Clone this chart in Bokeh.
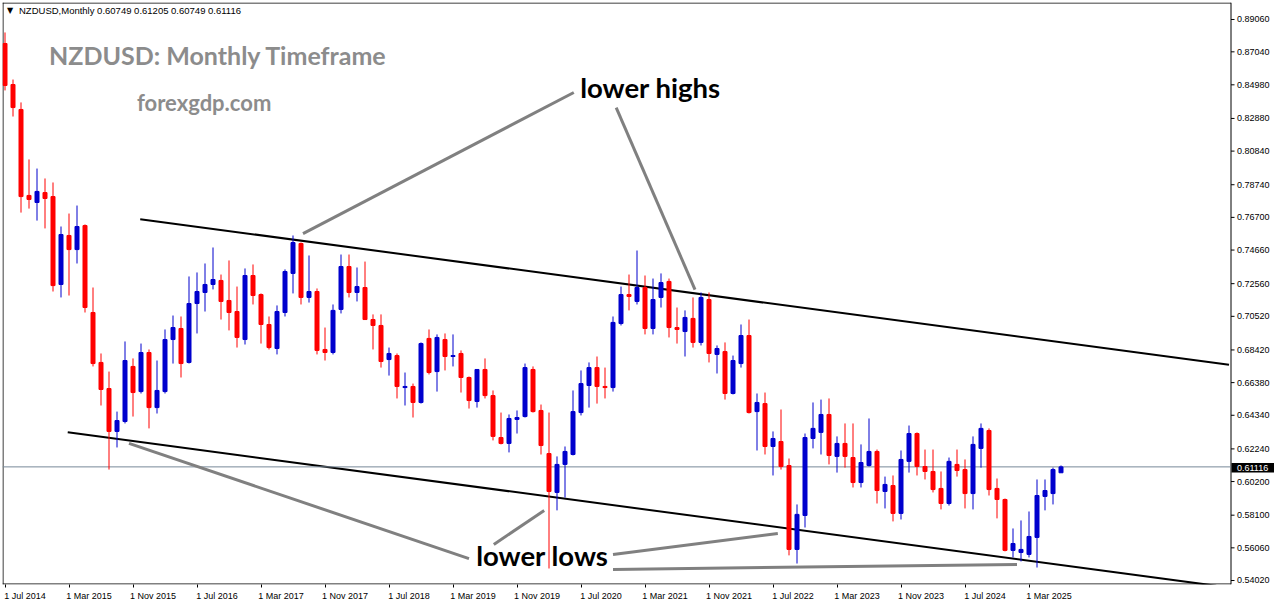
from bokeh.plotting import figure
from bokeh.models import Range1d, FixedTicker
from bokeh.core.properties import value
from bokeh.embed import file_html
from bokeh.resources import INLINE

# Monthly candles, index 0 = Jul 2014 ... index 132 = Jul 2025
opens = [0.8756, 0.8500, 0.8344, 0.7807, 0.7763, 0.7825, 0.7800, 0.7251, 0.7557, 0.7469,
         0.7619, 0.7076, 0.6764, 0.6601, 0.6333, 0.6395, 0.6739, 0.6582, 0.6826, 0.6482,
         0.6582, 0.6907, 0.6976, 0.6764, 0.7132, 0.7201, 0.7251, 0.7276, 0.7151, 0.7082,
         0.6907, 0.7307, 0.7188, 0.7001, 0.6851, 0.7076, 0.7320, 0.7507, 0.7170, 0.7207,
         0.6845, 0.6826, 0.7095, 0.7363, 0.7201, 0.7232, 0.7032, 0.6995, 0.6782, 0.6807,
         0.6607, 0.6614, 0.6514, 0.6914, 0.6707, 0.6907, 0.6801, 0.6820, 0.6670, 0.6520,
         0.6720, 0.6557, 0.6295, 0.6258, 0.6408, 0.6426, 0.6720, 0.6464, 0.6195, 0.5952,
         0.6127, 0.6189, 0.6451, 0.6620, 0.6732, 0.6614, 0.6607, 0.7007, 0.7188, 0.7145,
         0.7232, 0.6976, 0.7170, 0.7270, 0.6982, 0.6957, 0.7039, 0.6889, 0.7157, 0.6814,
         0.6832, 0.6570, 0.6757, 0.6932, 0.6457, 0.6507, 0.6239, 0.6270, 0.6120, 0.5596,
         0.5808, 0.6289, 0.6327, 0.6439, 0.6177, 0.6258, 0.6170, 0.6014, 0.6120, 0.6208,
         0.5958, 0.5995, 0.5821, 0.6146, 0.6320, 0.6114, 0.6083, 0.5977, 0.5883, 0.6127,
         0.6095, 0.5945, 0.6227, 0.6339, 0.5977, 0.5908, 0.5590, 0.5577, 0.5565, 0.5671,
         0.5927, 0.5945, 0.60749]
highs = [0.8825, 0.8531, 0.8388, 0.8032, 0.7975, 0.7913, 0.7888, 0.7613, 0.7694, 0.7744,
         0.7626, 0.7232, 0.6820, 0.6707, 0.6457, 0.6895, 0.6789, 0.6882, 0.6845, 0.6776,
         0.6970, 0.7057, 0.7051, 0.7301, 0.7326, 0.7382, 0.7482, 0.7313, 0.7401, 0.7238,
         0.7351, 0.7376, 0.7195, 0.7051, 0.7120, 0.7345, 0.7557, 0.7513, 0.7432, 0.7226,
         0.6982, 0.7126, 0.7438, 0.7438, 0.7357, 0.7394, 0.7064, 0.7064, 0.6857, 0.6820,
         0.6701, 0.6632, 0.6889, 0.6970, 0.6939, 0.6945, 0.6939, 0.6839, 0.6676, 0.6720,
         0.6789, 0.6589, 0.6451, 0.6439, 0.6464, 0.6757, 0.6739, 0.6501, 0.6451, 0.6177,
         0.6239, 0.6589, 0.6714, 0.6764, 0.6801, 0.6732, 0.7051, 0.7238, 0.7313, 0.7463,
         0.7307, 0.7288, 0.7320, 0.7288, 0.7107, 0.7089, 0.7170, 0.7201, 0.7201, 0.6870,
         0.6889, 0.6807, 0.7001, 0.7032, 0.6570, 0.6576, 0.6333, 0.6470, 0.6164, 0.5877,
         0.6320, 0.6514, 0.6532, 0.6539, 0.6302, 0.6383, 0.6383, 0.6252, 0.6414, 0.6220,
         0.6051, 0.6058, 0.6214, 0.6370, 0.6327, 0.6220, 0.6220, 0.6083, 0.6170, 0.6220,
         0.6158, 0.6302, 0.6383, 0.6352, 0.6039, 0.5914, 0.5727, 0.5777, 0.5833, 0.6033,
         0.6033, 0.6107, 0.61205]
lows = [0.8463, 0.8300, 0.7700, 0.7725, 0.7650, 0.7601, 0.7207, 0.7170, 0.7182, 0.7382,
        0.7076, 0.6739, 0.6495, 0.6095, 0.6233, 0.6383, 0.6426, 0.6570, 0.6352, 0.6445,
        0.6570, 0.6757, 0.6670, 0.6757, 0.6945, 0.7082, 0.7220, 0.7032, 0.6964, 0.6857,
        0.6876, 0.7126, 0.6882, 0.6845, 0.6814, 0.7051, 0.7195, 0.7126, 0.7138, 0.6814,
        0.6776, 0.6814, 0.7070, 0.7170, 0.7145, 0.7030, 0.6845, 0.6732, 0.6682, 0.6539,
        0.6495, 0.6420, 0.6507, 0.6689, 0.6582, 0.6714, 0.6739, 0.6576, 0.6476, 0.6482,
        0.6539, 0.6277, 0.6252, 0.6202, 0.6320, 0.6420, 0.6451, 0.6189, 0.5477, 0.5840,
        0.5920, 0.6183, 0.6433, 0.6482, 0.6507, 0.6539, 0.6582, 0.6995, 0.7089, 0.7126,
        0.6939, 0.6939, 0.7107, 0.6920, 0.6882, 0.6801, 0.6857, 0.6870, 0.6764, 0.6695,
        0.6532, 0.6564, 0.6732, 0.6445, 0.6214, 0.6189, 0.6058, 0.6095, 0.5559, 0.5508,
        0.5733, 0.6227, 0.6189, 0.6127, 0.6076, 0.6107, 0.5983, 0.5983, 0.6114, 0.5883,
        0.5852, 0.5771, 0.5783, 0.6076, 0.6058, 0.6033, 0.5952, 0.5846, 0.5870, 0.6051,
        0.5852, 0.5846, 0.6107, 0.5933, 0.5790, 0.5584, 0.5546, 0.5521, 0.5546, 0.5483,
        0.5840, 0.5877, 0.60749]
closes = [0.8494, 0.8356, 0.7800, 0.7782, 0.7832, 0.7788, 0.7244, 0.7563, 0.7469, 0.7613,
          0.7107, 0.6757, 0.6595, 0.6333, 0.6401, 0.6776, 0.6576, 0.6826, 0.6482, 0.6589,
          0.6907, 0.6982, 0.6757, 0.7132, 0.7207, 0.7251, 0.7282, 0.7145, 0.7076, 0.6920,
          0.7307, 0.7182, 0.7001, 0.6857, 0.7082, 0.7332, 0.7513, 0.7170, 0.7207, 0.6839,
          0.6826, 0.7089, 0.7363, 0.7201, 0.7238, 0.7032, 0.6995, 0.6770, 0.6820, 0.6614,
          0.6614, 0.6514, 0.6882, 0.6701, 0.6920, 0.6801, 0.6807, 0.6670, 0.6526, 0.6720,
          0.6557, 0.6302, 0.6258, 0.6414, 0.6420, 0.6732, 0.6457, 0.6245, 0.5958, 0.6127,
          0.6208, 0.6457, 0.6632, 0.6732, 0.6614, 0.6607, 0.7014, 0.7188, 0.7176, 0.7232,
          0.6976, 0.7157, 0.7263, 0.6982, 0.6970, 0.7045, 0.6889, 0.7170, 0.6820, 0.6851,
          0.6570, 0.6776, 0.6932, 0.6451, 0.6514, 0.6239, 0.6289, 0.6114, 0.5596, 0.5815,
          0.6295, 0.6352, 0.6439, 0.6183, 0.6258, 0.6177, 0.6014, 0.6139, 0.6208, 0.5964,
          0.6002, 0.5821, 0.6158, 0.6320, 0.6114, 0.6083, 0.5970, 0.5883, 0.6146, 0.6089,
          0.5945, 0.6252, 0.6352, 0.5970, 0.5908, 0.5590, 0.5633, 0.5596, 0.5677, 0.5933,
          0.5964, 0.6095, 0.61116]

# axis ticks
date_tick_idx = [0, 8, 16, 24, 32, 40, 48, 56, 64, 72, 80, 88, 96, 104, 112, 120, 128]
date_labels = ["1 Jul 2014", "1 Mar 2015", "1 Nov 2015", "1 Jul 2016", "1 Mar 2017",
               "1 Nov 2017", "1 Jul 2018", "1 Mar 2019", "1 Nov 2019", "1 Jul 2020",
               "1 Mar 2021", "1 Nov 2021", "1 Jul 2022", "1 Mar 2023", "1 Nov 2023",
               "1 Jul 2024", "1 Mar 2025"]
price_ticks = [0.89060, 0.87040, 0.84980, 0.82880, 0.80840, 0.78740, 0.76700, 0.74660,
               0.72560, 0.70520, 0.68420, 0.66380, 0.64340, 0.62240, 0.60200, 0.58100,
               0.56060, 0.54020]
last_price = 0.61116
header = "NZDUSD,Monthly  0.60749 0.61205 0.60749 0.61116"

# trend channel (month index, price)
upper_x = [16.9, 153.0]
upper_y = [0.7659, 0.6749]
lower_x = [7.84, 151.4]
lower_y = [0.6328, 0.5369]

# annotation pointer lines
note_lines = [
    ([37.25, 71.1], [0.7569, 0.8450]),
    ([76.4, 86.25], [0.8356, 0.7219]),
    ([15.5, 58.0], [0.6258, 0.5539]),
    ([61.1, 67.4], [0.5627, 0.5839]),
    ([76.0, 96.6], [0.5564, 0.5696]),
    ([76.0, 126.5], [0.5471, 0.5502]),
]

# ---- geometry of the terminal window (px per month = 8) ----
PX = 8.0
x_lo, x_hi = -0.3125, -0.3125 + 1274 / PX
y_hi, y_lo = 0.901218, 0.537701
ppx = (y_hi - y_lo) / 582.0          # price per pixel
axis_x = 153.25                      # right price scale line
left_x = x_lo + 0.5 / PX
top_y = y_hi - 0.5 * ppx
bot_y = y_lo + 0.5 * ppx

n = len(opens)
xs = list(range(n))
bull = [c >= o for o, c in zip(opens, closes)]
colors = ["#0000cd" if b else "#ff0000" for b in bull]
tops = [max(o, c) for o, c in zip(opens, closes)]
bots = [min(o, c) for o, c in zip(opens, closes)]

p = figure(width=1276, height=604, x_range=Range1d(x_lo, x_hi), y_range=Range1d(y_lo, y_hi),
           y_axis_location=None, toolbar_location=None, output_backend="svg",
           min_border_left=2, min_border_top=2, min_border_right=0, min_border_bottom=20)
p.background_fill_color = "white"
p.border_fill_color = "white"
p.outline_line_color = None
p.grid.visible = False

# window frame (top, left, bottom, right = price scale line)
p.segment(x0=[x_lo, left_x, x_lo, axis_x], y0=[top_y, y_lo, bot_y, y_lo],
          x1=[axis_x, left_x, axis_x, axis_x], y1=[top_y, y_hi, bot_y, y_hi],
          line_color="black", line_width=1)

# channel lines
p.line(upper_x, upper_y, line_color="black", line_width=2)
p.line(lower_x, lower_y, line_color="black", line_width=2)

# current price line
p.segment(x0=[x_lo], y0=[last_price], x1=[axis_x], y1=[last_price],
          line_color="#778899", line_width=1)

# candles
p.segment(x0=xs, y0=lows, x1=xs, y1=highs, line_color=colors, line_width=1)
p.vbar(x=xs, top=tops, bottom=bots, width=0.5, fill_color=colors, line_color=colors, line_width=1)

# pointer lines
for lx, ly in note_lines:
    p.line(lx, ly, line_color="#808080", line_width=3)

# price scale ticks and labels
p.segment(x0=[axis_x] * len(price_ticks), y0=price_ticks,
          x1=[axis_x + 3.5 / PX] * len(price_ticks), y1=price_ticks,
          line_color="black", line_width=1)
p.text(x=[axis_x + 6 / PX] * len(price_ticks), y=price_ticks,
       text=["%.5f" % t for t in price_ticks], text_font=value("Liberation Sans"),
       text_font_size="9px", text_color="black", text_baseline="middle", text_align="left")

# current price tag
p.quad(left=[axis_x + 0.5 / PX], right=[axis_x + 43 / PX],
       top=[last_price + 4 * ppx], bottom=[last_price - 5.5 * ppx],
       fill_color="black", line_color=None)
p.text(x=[axis_x + 6 / PX], y=[last_price - 0.7 * ppx], text=["%.5f" % last_price],
       text_font=value("Liberation Sans"), text_font_size="9px", text_color="white",
       text_baseline="middle", text_align="left")

# header
p.text(x=[0.25], y=[0.8962], text=["\u25bc"], text_font=value("DejaVu Sans"),
       text_font_size="8px", text_color="black", text_baseline="middle", text_align="left")
p.text(x=[1.75], y=[0.8962], text=[header], text_font=value("Liberation Sans"),
       text_font_size="9.5px", text_color="black", text_baseline="middle", text_align="left")

# titles and notes
p.text(x=[5.5], y=[0.8685], text=["NZDUSD: Monthly Timeframe"], text_font=value("Lato"),
       text_font_style="bold", text_font_size="25px", text_color="#8c8c8c",
       text_baseline="middle", text_align="left")
p.text(x=[16.5], y=[0.8388], text=["forexgdp.com"], text_font=value("Lato"),
       text_font_style="bold", text_font_size="22px", text_color="#8c8c8c",
       text_baseline="middle", text_align="left")
p.text(x=[71.9], y=[0.8481], text=["lower highs"], text_font=value("Lato"),
       text_font_style="bold", text_font_size="27.5px", text_color="black",
       text_baseline="middle", text_align="left")
p.text(x=[58.9], y=[0.5558], text=["lower lows"], text_font=value("Lato"),
       text_font_style="bold", text_font_size="27.5px", text_color="black",
       text_baseline="middle", text_align="left")

# bottom date axis: labels start at the tick, as in the terminal
shift = 2.5
xa = p.xaxis[0]
xa.ticker = FixedTicker(ticks=[t + shift for t in date_tick_idx], minor_ticks=date_tick_idx)
xa.major_label_overrides = {t + shift: lab for t, lab in zip(date_tick_idx, date_labels)}
xa.major_tick_line_color = None
xa.major_tick_in = 0
xa.major_tick_out = 0
xa.minor_tick_in = 0
xa.minor_tick_out = 3
xa.minor_tick_line_color = "black"
xa.axis_line_color = None
xa.major_label_standoff = 3
xa.major_label_text_font = "Liberation Sans"
xa.major_label_text_font_size = "9px"
xa.major_label_text_color = "black"

open("out.html", "w").write(file_html(p, INLINE))
